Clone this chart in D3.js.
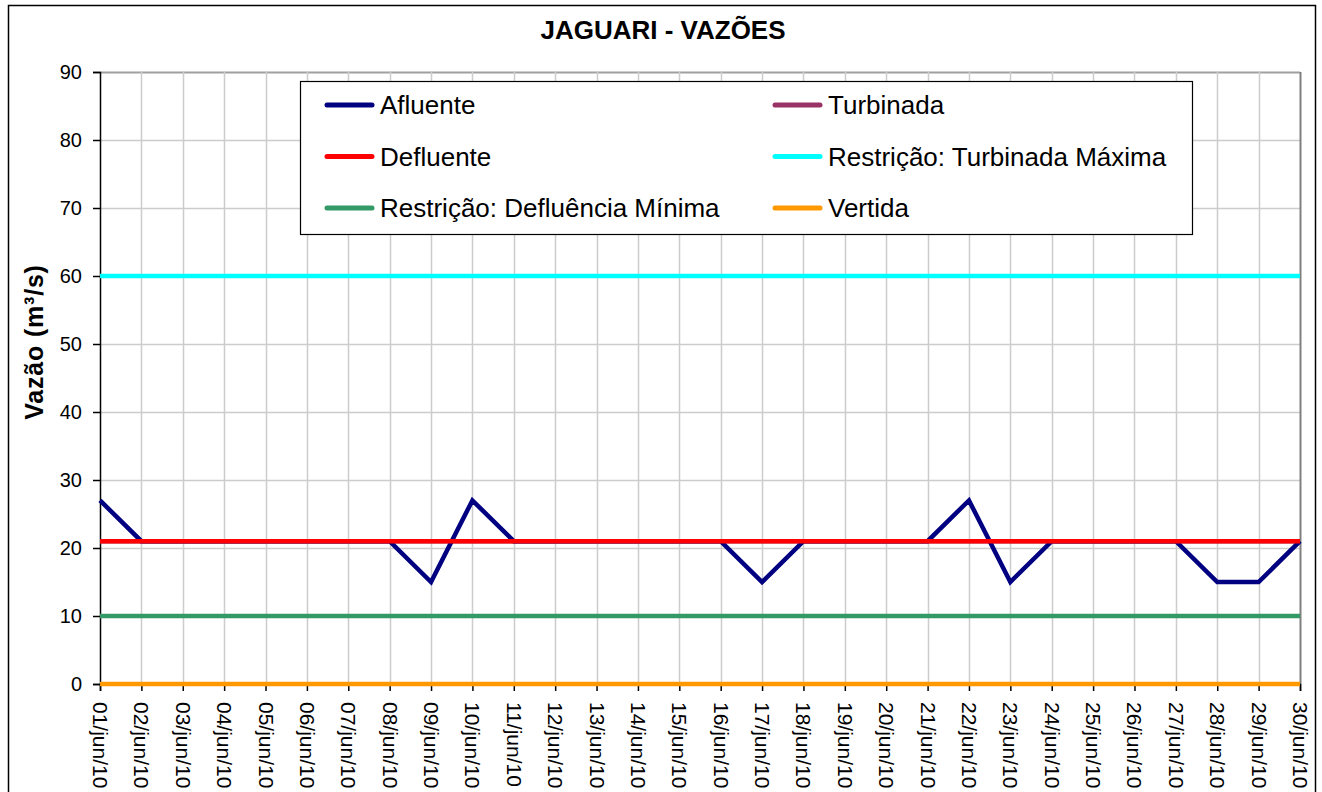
<!DOCTYPE html>
<html>
<head>
<meta charset="utf-8">
<script src="https://cdn.jsdelivr.net/npm/d3@7"></script>
<style>
  body { margin: 0; background: #fff; }
  svg { font-family: Arial, "Liberation Sans", sans-serif; }
</style>
</head>
<body>
<div id="chart"></div>
<script>
// days of june/2010
var days = d3.range(1, 31).map(function(d){ return (d < 10 ? "0" + d : "" + d) + "/jun/10"; });

var afluente   = [27,21,21,21,21,21,21,21,15,27,21,21,21,21,21,21,15,21,21,21,21,27,15,21,21,21,21,15,15,21];
var defluente  = days.map(function(){ return 21; });
var turbinada  = days.map(function(){ return 21; });
var turbMaxima = days.map(function(){ return 60; });
var deflMinima = days.map(function(){ return 10; });
var vertida    = days.map(function(){ return 0; });

var yTicks = [0,10,20,30,40,50,60,70,80,90];

var series = [
    {name: "Vertida", values: vertida, color: "#FF9900"},
    {name: "Restrição: Defluência Mínima", values: deflMinima, color: "#339966"},
    {name: "Restrição: Turbinada Máxima", values: turbMaxima, color: "#00FFFF"},
    {name: "Turbinada", values: turbinada, color: "#993366"},
    {name: "Afluente", values: afluente, color: "#000080"},
    {name: "Defluente", values: defluente, color: "#FF0000"}
];
// order as in the legend
var legendOrder = ["Afluente", "Turbinada", "Defluente", "Restrição: Turbinada Máxima", "Restrição: Defluência Mínima", "Vertida"];

const svgWidth = 1322, svgHeight = 792;
var margin = {top: 72, right: 22, bottom: 108, left: 100};
var innerWidth = svgWidth - margin.left - margin.right;
var innerHeight = svgHeight - margin.top - margin.bottom;

var svg = d3.select("#chart").append("svg")
    .attr("width", svgWidth)
    .attr("height", svgHeight);

// outer chart border
svg.append("rect")
    .attr("x", 8.5).attr("y", 5.5)
    .attr("width", 1307).attr("height", 800)
    .attr("fill", "none")
    .attr("stroke", "#000")
    .attr("stroke-width", 1.5);

svg.append("text")
    .attr("x", 663).attr("y", 39)
    .attr("text-anchor", "middle")
    .style("font-size", "26px")
    .style("font-weight", "bold")
    .text("JAGUARI - VAZÕES");

var xScale = d3.scalePoint()
    .domain(days)
    .range([0, innerWidth]);

var yScale = d3.scaleLinear()
    .domain([0, 90])
    .range([innerHeight, 0]);

var g = svg.append("g")
    .attr("transform", "translate(" + margin.left + "," + margin.top + ")");

// gridlines
g.append("g").selectAll("line.h")
    .data(yTicks.slice(1))
    .enter().append("line")
    .attr("x1", 0).attr("x2", innerWidth)
    .attr("y1", function(d){ return Math.round(yScale(d)) + 0.5; })
    .attr("y2", function(d){ return Math.round(yScale(d)) + 0.5; })
    .attr("stroke", function(d){ return d == 90 ? "#a0a0a0" : "#cccccc"; })
    .attr("stroke-width", function(d){ return d == 90 ? 2 : 1.5; });

g.append("g").selectAll("line.v")
    .data(days.slice(1))
    .enter().append("line")
    .attr("y1", 0).attr("y2", innerHeight)
    .attr("x1", function(d){ return Math.round(xScale(d)) + 0.5; })
    .attr("x2", function(d){ return Math.round(xScale(d)) + 0.5; })
    .attr("stroke", function(d, i){ return i == days.length - 2 ? "#808080" : "#cccccc"; })
    .attr("stroke-width", function(d, i){ return i == days.length - 2 ? 2 : 1.5; });

var yAxis = d3.axisLeft(yScale).tickValues(yTicks).tickSize(7).tickPadding(11);
var xAxis = d3.axisBottom(xScale).tickSize(7).tickPadding(4);

var yg = g.append("g").attr("class", "axis axis--y").call(yAxis);
yg.selectAll("text").style("font-size", "20px").attr("fill", "#000");
yg.selectAll("line, path").attr("stroke", "#000").attr("stroke-width", 1.5);

var xg = g.append("g")
    .attr("class", "axis axis--x")
    .attr("transform", "translate(0," + innerHeight + ")")
    .call(xAxis);
xg.selectAll("line, path").attr("stroke", "#000").attr("stroke-width", 1.5);
xg.selectAll("text")
    .style("font-size", "21px")
    .attr("fill", "#000")
    .attr("text-anchor", "start")
    .attr("dy", null)
    .attr("transform", "translate(-7.5,18) rotate(90)")
    .attr("x", 0).attr("y", 0);

// y axis label
svg.append("text")
    .attr("transform", "translate(43,342) rotate(-90)")
    .attr("text-anchor", "middle")
    .style("font-size", "25px")
    .style("font-weight", "bold")
    .style("letter-spacing", "0.8px")
    .text("Vazão (m³/s)");

// series lines
var line = d3.line()
    .x(function(d, i){ return xScale(days[i]); })
    .y(function(d){ return yScale(d); });

g.append("g").selectAll("path.series")
    .data(series)
    .enter().append("path")
    .attr("class", "series")
    .attr("d", function(d){ return line(d.values); })
    .attr("fill", "none")
    .attr("stroke", function(d){ return d.color; })
    .attr("stroke-width", 4.5)
    .attr("stroke-linejoin", "miter");

// legend
var legend = svg.append("g").attr("transform", "translate(300,81)");
legend.append("rect")
    .attr("x", 0.5).attr("y", 0.5)
    .attr("width", 892).attr("height", 153)
    .attr("fill", "#fff")
    .attr("stroke", "#000")
    .attr("stroke-width", 1.2);

var legItems = legend.selectAll("g.item")
    .data(legendOrder.map(function(n){ return series.find(function(s){ return s.name == n; }); }))
    .enter().append("g")
    .attr("class", "item")
    .attr("transform", function(d, i){
        return "translate(" + (i % 2 == 0 ? 25 : 473) + "," + (24 + Math.floor(i / 2) * 51.5) + ")";
    });

legItems.append("line")
    .attr("x1", 2).attr("x2", 47)
    .attr("y1", 0).attr("y2", 0)
    .attr("stroke", function(d){ return d.color; })
    .attr("stroke-width", 5)
    .attr("stroke-linecap", "round");

legItems.append("text")
    .attr("x", 55).attr("y", 9)
    .style("font-size", "26px")
    .text(function(d){ return d.name; });
</script>
</body>
</html>
